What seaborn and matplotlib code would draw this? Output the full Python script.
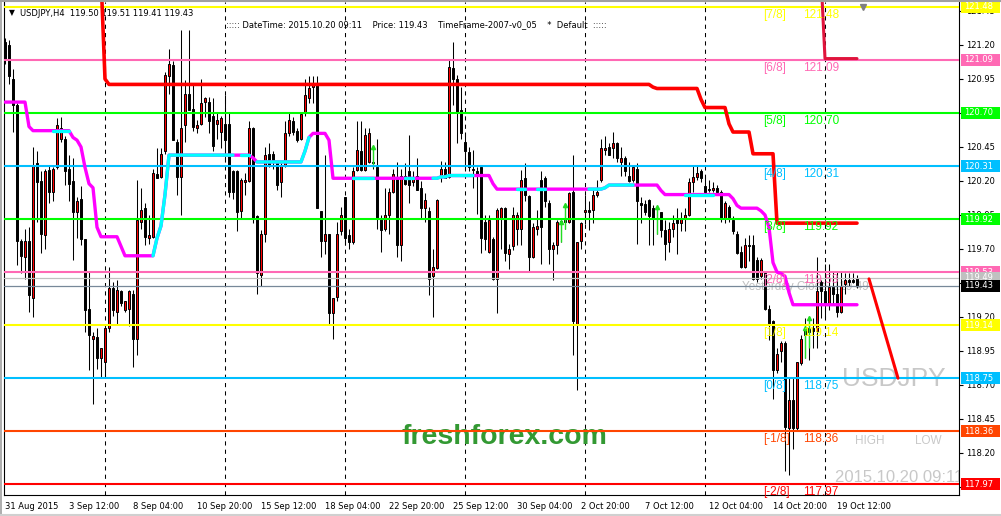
import numpy as np
import pandas as pd
import matplotlib
matplotlib.use("Agg")
import matplotlib.pyplot as plt
import matplotlib.transforms as mtransforms
from matplotlib.patches import Rectangle
from matplotlib.lines import Line2D
import seaborn as sns

# ---------------- data (USDJPY H4 candles) ----------------
opens = [121.22,121.20,120.95,120.76,119.76,119.64,119.76,119.34,120.33,120.20,
119.80,120.28,120.12,120.30,120.51,120.51,120.29,120.20,119.97,120.07,
119.77,119.26,119.04,119.05,118.90,118.87,119.12,119.41,119.24,119.39,
119.25,119.26,119.37,119.04,119.90,120.00,119.78,119.79,120.25,120.23,
120.42,120.97,121.05,120.49,120.23,120.61,120.84,120.73,120.59,120.62,
120.78,120.78,120.68,120.62,120.56,120.62,120.62,120.27,120.27,119.98,
120.19,120.20,120.59,119.94,119.51,119.81,120.40,120.40,120.34,120.19,
120.32,120.55,120.64,120.57,120.51,120.70,120.81,120.89,120.91,119.98,
119.76,119.81,119.23,119.35,119.83,120.08,119.80,119.75,120.28,120.42,
120.28,120.34,120.34,120.30,119.92,119.85,119.95,120.12,120.23,119.73,
120.24,120.27,120.19,120.24,120.15,120.00,119.98,119.50,119.56,120.24,
120.29,120.23,121.03,120.95,120.72,120.49,120.41,120.28,120.27,120.30,
119.90,119.68,119.77,119.48,119.92,120.00,119.66,119.72,119.85,119.85,
120.22,120.09,119.64,119.85,120.21,120.22,120.04,119.70,119.73,119.90,
119.91,119.90,120.12,119.15,119.76,119.97,119.99,119.99,120.10,120.21,
120.43,120.45,120.44,120.48,120.34,120.37,120.24,120.21,120.29,120.04,
120.03,120.06,120.00,119.92,119.97,119.84,119.75,119.85,119.92,119.89,
119.92,119.95,120.19,120.23,120.27,120.16,120.14,120.13,120.15,120.12,
119.92,120.01,119.91,119.81,119.68,119.57,119.73,119.73,119.62,119.50,
119.52,119.26,119.17,118.81,118.95,119.01,118.38,118.59,118.38,118.86,
119.07,119.09,119.12,119.10,119.46,119.39,119.29,119.42,119.37,119.24,
119.44,119.47,119.47,119.49]
highs = [121.25,121.24,121.02,120.77,119.77,119.85,119.86,120.45,120.42,120.27,
120.29,120.32,120.30,120.66,120.67,120.53,120.39,120.37,120.08,120.16,
119.77,119.53,119.09,119.12,118.97,119.12,119.57,119.46,119.47,119.40,
119.32,119.40,119.40,120.21,120.15,120.04,119.95,120.29,120.44,120.44,
121.00,121.17,121.08,120.51,121.31,120.94,121.31,120.91,120.65,120.95,
120.82,120.82,120.81,120.71,120.68,120.83,120.70,120.28,120.28,120.22,
120.26,120.64,120.60,119.95,119.84,120.45,120.48,120.42,120.34,120.33,
120.64,120.70,120.67,120.59,120.70,120.95,120.97,120.97,120.97,119.98,
120.39,119.81,119.34,119.90,120.01,120.08,119.85,120.30,120.64,120.64,
120.59,120.59,120.45,120.51,119.95,120.15,120.15,120.29,120.34,120.29,
120.33,120.54,120.27,120.37,120.20,120.11,120.01,119.70,120.07,120.35,
120.34,121.10,121.22,120.98,120.89,120.56,120.45,120.43,120.30,120.30,
119.95,119.95,119.79,120.00,120.01,120.01,119.74,120.01,119.97,120.28,
120.33,120.10,119.89,119.99,120.27,120.24,120.06,119.75,119.91,119.91,
120.02,120.12,120.39,119.75,119.90,120.10,120.05,120.15,120.21,120.51,
120.53,120.48,120.56,120.49,120.45,120.38,120.34,120.31,120.33,120.08,
120.06,120.07,120.02,120.01,119.97,119.91,119.90,119.95,120.00,119.97,
120.00,120.22,120.32,120.32,120.29,120.24,120.21,120.19,120.17,120.13,
120.05,120.02,119.94,119.83,119.72,119.78,119.80,119.80,119.64,119.63,
119.52,119.29,119.18,118.97,119.02,119.02,118.76,118.75,118.87,119.07,
119.19,119.18,119.19,119.64,119.47,119.59,119.59,119.53,119.53,119.53,
119.52,119.52,119.52,119.51]
lows = [121.06,120.91,120.56,119.58,119.52,119.48,119.24,119.20,119.90,119.67,
119.70,120.04,120.05,120.29,120.49,120.17,120.05,119.62,119.78,119.73,
119.09,118.81,118.56,118.82,118.75,118.75,119.09,119.21,119.15,119.28,
119.24,119.13,118.83,118.92,119.85,119.73,119.74,119.78,120.22,120.22,
120.40,120.84,120.50,120.10,119.95,120.49,120.72,120.57,120.55,120.61,
120.67,120.55,120.42,120.51,120.44,120.34,120.08,120.07,119.83,119.92,
120.10,120.19,119.89,119.37,119.43,119.75,120.30,120.29,120.13,120.08,
120.30,120.53,120.54,120.49,120.50,120.68,120.77,120.77,120.00,119.64,
119.66,119.15,119.04,119.32,119.80,119.73,119.70,119.74,120.27,120.27,
120.27,120.33,120.29,119.85,119.68,119.83,119.81,120.11,119.64,119.61,
120.17,120.04,120.16,120.13,119.92,119.90,119.36,119.20,119.55,120.19,
120.22,120.22,120.76,120.48,120.51,120.27,120.27,120.15,119.96,119.67,
119.69,119.67,119.47,119.23,119.70,119.61,119.55,119.69,119.73,119.73,
120.05,119.53,119.63,119.80,119.59,120.01,119.59,119.47,119.66,119.75,
119.85,119.89,118.92,118.66,119.70,119.88,119.84,119.89,120.08,120.19,
120.39,120.39,120.37,120.34,120.24,120.24,120.19,120.19,119.74,119.89,
119.95,119.73,119.73,119.81,119.79,119.62,119.68,119.79,119.66,119.83,
119.83,119.94,120.12,120.21,120.19,120.10,120.12,120.12,120.10,119.90,
119.89,119.90,119.81,119.66,119.56,119.56,119.61,119.47,119.46,119.48,
119.25,119.03,118.60,118.79,118.87,118.07,118.04,118.23,118.37,118.85,
118.90,118.88,118.97,118.97,119.19,119.19,119.25,119.29,119.20,119.23,
119.37,119.43,119.45,119.41]
closes = [121.09,120.97,120.76,119.76,119.65,119.76,119.36,120.32,120.19,119.81,
120.27,120.12,120.29,120.61,120.59,120.27,120.18,119.97,120.05,119.77,
119.25,119.07,119.06,118.90,118.97,119.12,119.41,119.25,119.40,119.30,
119.32,119.39,119.04,119.91,119.99,119.79,119.80,120.26,120.22,120.40,
120.98,121.06,120.50,120.23,120.59,120.84,120.72,120.60,120.61,120.77,
120.81,120.64,120.46,120.65,120.66,120.50,120.12,120.12,119.97,120.21,
120.21,120.59,119.92,119.52,119.81,120.39,120.32,120.34,120.17,120.32,
120.55,120.65,120.56,120.50,120.69,120.83,120.88,120.92,120.00,119.76,
119.81,119.23,119.34,119.81,119.95,119.78,119.75,120.27,120.43,120.28,
120.54,120.55,120.33,119.92,119.84,119.95,120.12,120.25,119.73,120.24,
120.18,120.17,120.23,120.13,120.00,120.06,119.48,119.57,120.06,120.29,
120.22,121.04,120.95,120.70,120.55,120.42,120.30,120.29,120.24,119.78,
119.77,119.91,119.48,119.99,120.00,119.67,119.70,119.95,119.95,120.21,
120.10,119.64,119.86,119.87,119.86,120.05,119.70,119.73,119.90,119.90,
119.90,120.11,119.17,119.75,119.89,119.99,119.97,120.10,120.12,120.44,
120.44,120.39,120.48,120.37,120.37,120.27,120.20,120.30,120.05,120.02,
119.97,119.94,119.92,119.93,119.84,119.74,119.85,119.89,119.89,119.92,
119.95,120.19,120.23,120.26,120.22,120.12,120.13,120.15,120.12,119.92,
120.04,119.92,119.83,119.67,119.57,119.73,119.72,119.48,119.48,119.62,
119.26,119.15,118.81,118.93,119.01,118.39,118.59,118.38,118.87,119.04,
119.12,119.12,119.10,119.39,119.39,119.29,119.42,119.37,119.24,119.43,
119.47,119.46,119.46,119.43]

# trend line (magenta = down state, cyan = up state)
trend_line = ([120.78]*6 + [120.60] + [120.57]*10 + [120.52, 120.50, 120.45, 120.30, 120.18, 120.15, 119.86]
              + [119.79]*5 + [119.72] + [119.65]*8 + [119.78, 119.87, 120.10] + [120.39]*21 + [120.37]
              + [120.34]*12 + [120.42, 120.52] + [120.55]*4 + [120.50] + [120.22]*26
              + [120.22, 120.23, 120.23] + [120.24]*11 + [120.18] + [120.14]*27 + [120.15]
              + [120.17]*13 + [120.13] + [120.10]*17 + [120.07, 120.02] + [120.00]*4
              + [120.00, 119.98, 119.95, 119.86, 119.60, 119.53, 119.52, 119.50, 119.38] + [119.29]*17)
trend_up_runs = [(13, 16), (38, 57), (60, 61), (64, 76), (88, 92), (101, 102), (108, 117),
                 (129, 130), (134, 135), (147, 157), (171, 177)]

# red trailing step line
red_step = ([np.nan]*24 + [121.70, 120.95] + [120.91]*136 + [120.89] + [120.88]*11 + [120.80]
            + [120.74]*6 + [120.62] + [120.56]*5 + [120.40]*6 + [119.89]*21)
red_top_bars = [204, 205, 206, 207, 208, 209, 210, 211, 212, 213]
red_top_vals = [121.70, 121.10, 121.10, 121.10, 121.10, 121.10, 121.10, 121.10, 121.10, 121.10]
proj_bars = [216.0, 223.25]
proj_vals = [119.48, 118.75]

# green signal arrows
sig_bars = [92, 139, 140, 163, 200, 201]
sig_lo = [120.30, 119.75, 119.85, 119.81, 118.90, 118.97]
sig_hi = [120.45, 119.90, 120.02, 120.01, 119.12, 119.19]

# Murrey math levels
levels = [121.48, 121.09, 120.70, 120.31, 119.92, 119.53, 119.14, 118.75, 118.36, 117.97]
level_names = ['[7/8]', '[6/8]', '[5/8]', '[4/8]', '[3/8]', '[2/8]', '[1/8]', '[0/8]', '[-1/8]', '[-2/8]']
level_colors = ['#FFFF00', '#FF69B4', '#00FF00', '#00BFFF', '#00FF00', '#FF69B4',
                '#FFFF00', '#00BFFF', '#FF4500', '#FF0000']
yest_close = 119.49
last_price = 119.43

yticks = [117.95, 118.20, 118.45, 118.70, 118.95, 119.20, 119.45, 119.70,
          119.95, 120.20, 120.45, 120.70, 120.95, 121.20, 121.45]
xtick_bars = [0, 16, 32, 48, 64, 80, 96, 112, 128, 144, 160, 176, 192, 208]
xtick_labels = ['31 Aug 2015', '3 Sep 12:00', '8 Sep 04:00', '10 Sep 20:00', '15 Sep 12:00',
                '18 Sep 04:00', '22 Sep 20:00', '25 Sep 12:00', '30 Sep 04:00', '2 Oct 20:00',
                '7 Oct 12:00', '12 Oct 04:00', '14 Oct 20:00', '19 Oct 12:00']
grid_bars = [25, 55, 85, 115, 145, 175, 205]

assert len(opens) == len(highs) == len(lows) == len(closes) == len(trend_line) == len(red_step) == 214

# ---------------- figure ----------------
sns.set_style("white")
plt.rcParams['font.family'] = ['DejaVu Sans']

W, H = 1001, 516
fig = plt.figure(figsize=(W/100, H/100), dpi=100)
fig.patch.set_facecolor('white')
ax = fig.add_axes([4/W, (H-495)/H, (959-4)/W, (495-2)/H])
ax.set_facecolor('white')

idx = np.arange(len(opens))
o = np.array(opens); h = np.array(highs); l = np.array(lows); c = np.array(closes)

# grid
for gb in grid_bars:
    ax.axvline(gb, color='black', lw=0.75, ls=(0, (4, 4)), zorder=1)

# candles
ax.vlines(idx, l, h, color='black', lw=0.75, zorder=2)
bull = c > o
bear = ~bull
ax.bar(idx[bull], np.maximum(c[bull]-o[bull], 0.006), bottom=o[bull], width=0.72,
       color='#FF0000', edgecolor='black', linewidth=0.7, zorder=2.5)
ax.bar(idx[bear], np.maximum(o[bear]-c[bear], 0.006), bottom=c[bear], width=0.72,
       color='black', edgecolor='black', linewidth=0.7, zorder=2.5)

# signals
ax.vlines(sig_bars, sig_lo, sig_hi, color='#22DD22', lw=1.0, zorder=3)
ax.plot(sig_bars, sig_hi, ls='none', marker='^', ms=3, color='#22DD22', zorder=3)

# horizontal levels
for lv, col in zip(levels, level_colors):
    ax.axhline(lv, color=col, lw=1.5, zorder=3)
ax.axhline(yest_close, color='#C0C0C0', lw=0.9, zorder=3)
ax.axhline(last_price, color='#778899', lw=0.9, zorder=3)

# trend line
tdf = pd.DataFrame({'bar': idx, 'val': trend_line})
sns.lineplot(data=tdf, x='bar', y='val', color='#FF00FF', lw=2.4, ax=ax, zorder=4,
             estimator=None, sort=False, legend=False)
for a, b in trend_up_runs:
    seg = tdf.iloc[a-1:b+1]
    sns.lineplot(data=seg, x='bar', y='val', color='#00FFFF', lw=2.4, ax=ax, zorder=4.1,
                 estimator=None, sort=False, legend=False)

# red step lines
rdf = pd.DataFrame({'bar': idx, 'val': red_step}).dropna()
sns.lineplot(data=rdf, x='bar', y='val', color='#FF0000', lw=2.6, ax=ax, zorder=4.2,
             estimator=None, sort=False, legend=False)
sns.lineplot(x=red_top_bars, y=red_top_vals, color='#E0143C', lw=2.2, ax=ax, zorder=4.2,
             estimator=None, sort=False, legend=False)
sns.lineplot(x=proj_bars, y=proj_vals, color='#FF0000', lw=2.2, ax=ax, zorder=4.2,
             estimator=None, sort=False, legend=False)

ax.set_xlim(-0.25, 238.5)
ax.set_ylim(117.891, 121.516)
ax.set_xlabel('')
ax.set_ylabel('')

# level labels in chart
for lv, name, col in zip(levels, level_names, level_colors):
    ax.annotate(name, xy=(189.5, lv), xytext=(0, -8), textcoords='offset pixels',
                color=col, fontsize=8.5, family='Liberation Sans', ha='left', va='center', zorder=5)
    ax.annotate(f"{lv:.2f}", xy=(199.5, lv), xytext=(0, -8), textcoords='offset pixels',
                color=col, fontsize=8.5, family='Liberation Sans', ha='left', va='center', zorder=5)
ax.annotate("Yesterday Close  " + f"{yest_close:.2f}", xy=(184.25, yest_close), xytext=(0, -9),
            textcoords='offset pixels', color='#C0C0C0', fontsize=8.5, family='Liberation Sans',
            ha='left', va='center', zorder=1.5)

# watermark texts
ax.text(0.5236, 0.1176, 'freshforex.com', transform=ax.transAxes, color='#339933',
        fontsize=20.5, fontweight='bold', family='Liberation Sans', ha='center', va='center', zorder=1)
ax.text(0.8775, 0.2353, 'USDJPY', transform=ax.transAxes, color='#C8C8C8',
        fontsize=19, family='Liberation Sans', ha='left', va='center', zorder=1)
ax.text(0.9068, 0.1095, 'HIGH', transform=ax.transAxes, color='#C8C8C8',
        fontsize=8.5, family='Liberation Sans', ha='center', va='center', zorder=1)
ax.text(0.9675, 0.1095, 'LOW', transform=ax.transAxes, color='#C8C8C8',
        fontsize=8.5, family='Liberation Sans', ha='center', va='center', zorder=1)
ax.text(0.870, 0.0345, '2015.10.20 09:11', transform=ax.transAxes, color='#C8C8C8',
        fontsize=12, family='Liberation Sans', ha='left', va='center', zorder=1, clip_on=True)

# header
ax.text(9/W, 1-13/H, '\u25BC', transform=fig.transFigure, fontsize=5.5, ha='left', va='center',
        color='black', zorder=1, clip_on=False)
ax.text(20/W, 1-13/H, 'USDJPY,H4  119.50 119.51 119.41 119.43', transform=fig.transFigure,
        fontsize=6, ha='left', va='center', color='black', zorder=1, clip_on=False)
ax.text(226/W, 1-25/H, '::::: DateTime: 2015.10.20 09:11    Price: 119.43    TimeFrame-2007-v0_05    *  Default  :::::',
        transform=fig.transFigure, fontsize=6, ha='left', va='center', color='black', zorder=1, clip_on=False)

# shift marker
ax.plot([214.5], [0.99], marker='v', ms=5, color='#808080', ls='none',
        transform=mtransforms.blended_transform_factory(ax.transData, ax.transAxes), clip_on=False, zorder=6)

# axes styling
ax.yaxis.tick_right()
ax.set_yticks(yticks)
ax.set_yticklabels([f"{v:.2f}" for v in yticks])
ax.set_xticks(xtick_bars)
ax.set_xticklabels(xtick_labels)
for lbl in ax.get_xticklabels():
    lbl.set_horizontalalignment('left')
ax.tick_params(axis='y', direction='out', length=3, width=0.8, pad=2, labelsize=6, colors='black',
               left=False, right=True)
ax.tick_params(axis='x', direction='out', length=3, width=0.8, pad=2, labelsize=6, colors='black')
for side in ['left', 'right', 'bottom']:
    ax.spines[side].set_color('black')
    ax.spines[side].set_linewidth(0.8)
    ax.spines[side].set_visible(True)
ax.spines['top'].set_visible(False)

# right-side price boxes
tb = mtransforms.blended_transform_factory(fig.transFigure, ax.transData)
box_vals = levels + [yest_close, last_price]
box_cols = level_colors + ['#C0C0C0', '#000000']
for i, (v, col) in enumerate(zip(box_vals, box_cols)):
    ax.add_patch(Rectangle((961/W, v-0.044), 39/W, 0.088, transform=tb, facecolor=col,
                           edgecolor='none', clip_on=False, zorder=6+i*0.01))
    ax.text(964/W, v, f"{v:.2f}", transform=tb, color='white', fontsize=6, ha='left', va='center',
            clip_on=False, zorder=6.005+i*0.01)

# window border
fig.add_artist(Line2D([0, 1], [1-1/H, 1-1/H], transform=fig.transFigure, color='#A0A0A0', lw=1.5))
fig.add_artist(Line2D([0.8/W, 0.8/W], [0, 1], transform=fig.transFigure, color='#A0A0A0', lw=1.2))
fig.add_artist(Line2D([0, 1], [1.2/H, 1.2/H], transform=fig.transFigure, color='#D0D0D0', lw=1.5))

fig.savefig('out.png', dpi=100, facecolor='white')
